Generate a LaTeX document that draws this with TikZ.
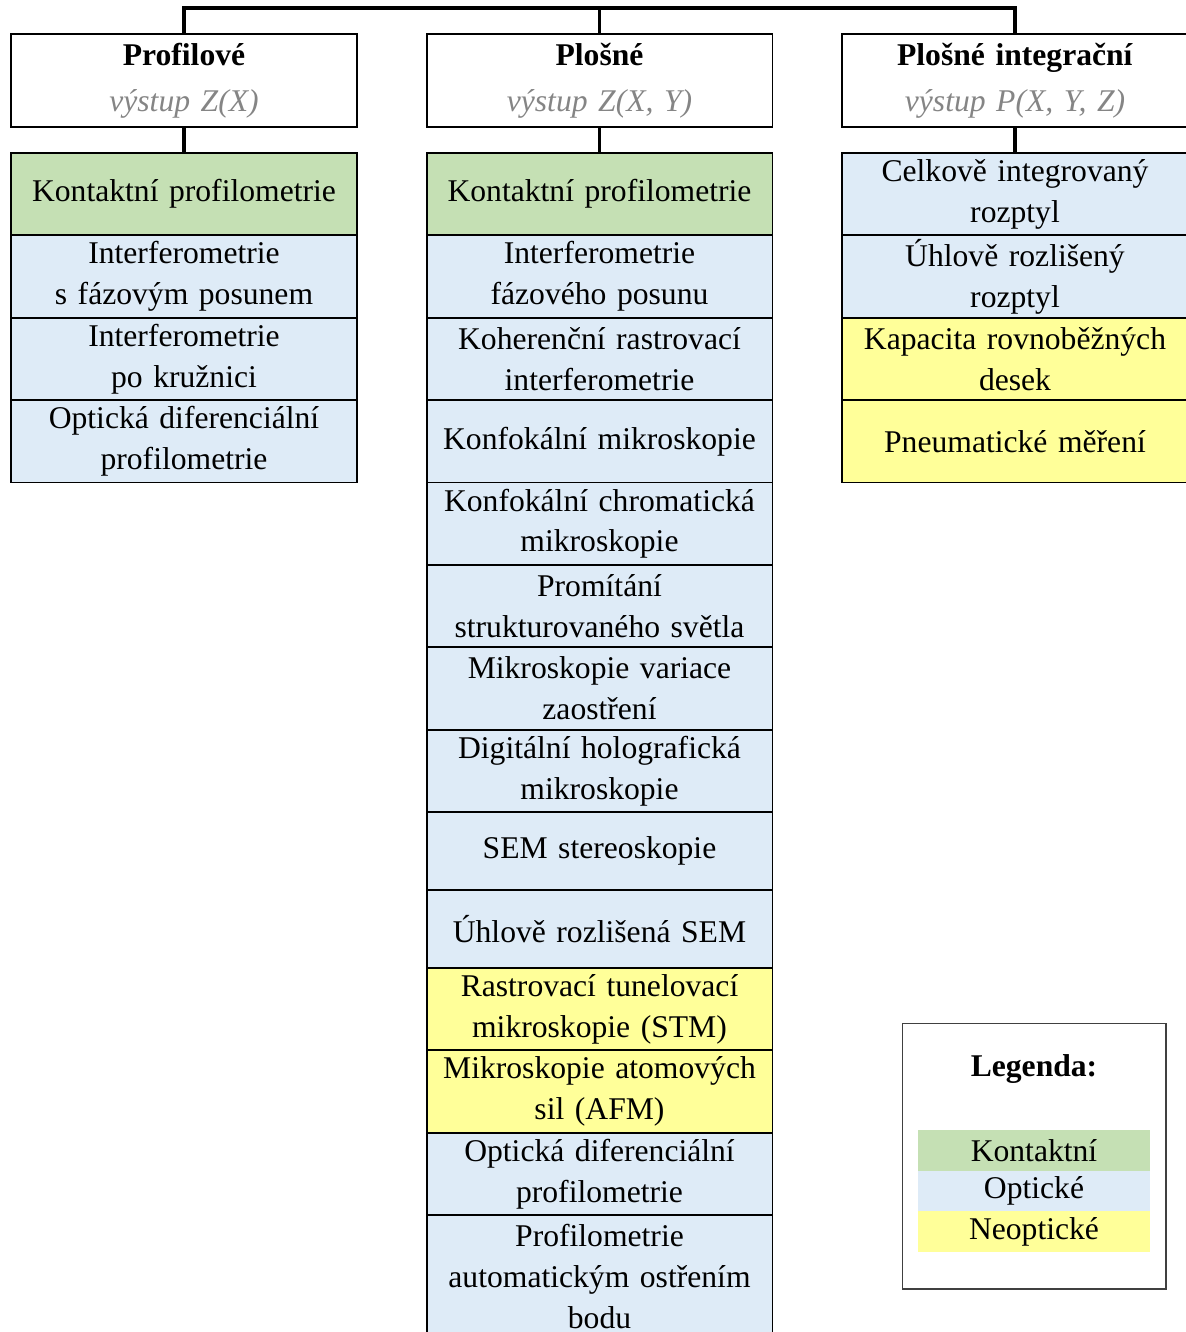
\documentclass[tikz,border=0pt]{standalone}
\usepackage{fontspec}
\setmainfont{Liberation Serif}
\usetikzlibrary{positioning}
\definecolor{kontakt}{HTML}{C5E0B4}
\definecolor{opticke}{HTML}{DEEBF7}
\definecolor{neopt}{HTML}{FFFF99}
\definecolor{vystup}{HTML}{858585}

\begin{document}
\begin{tikzpicture}[x=0.02cm,y=-0.02cm,
every node/.style={font=\fontsize{18}{23.3}\selectfont,align=center,outer sep=0pt,inner sep=0pt},
box/.style={draw,line width=1.1pt,minimum width=6.92cm,minimum height=1.648cm,text width=6.7cm},
head/.style={box,minimum height=1.86cm,font=\fontsize{18}{26.2}\selectfont},
kon/.style={box,fill=kontakt},
opt/.style={box,fill=opticke},
neo/.style={box,fill=neopt},
conn/.style={line width=2pt},
leg/.style={minimum width=4.64cm,minimum height=0.81cm}]
\clip (0,0) rectangle (1186,1332);
\coordinate (top) at (599.5,8);
% headers
\node[head] (prof) at (184,80.5) {\textbf{Profilové}\\{\color{vystup}\itshape výstup Z(X)}};
\node[head] (plos) at (599.5,80.5) {\textbf{Plošné}\\{\color{vystup}\itshape výstup Z(X, Y)}};
\node[head] (integ) at (1015,80.5) {\textbf{Plošné integrační}\\{\color{vystup}\itshape výstup P(X, Y, Z)}};
% profilove
\node[kon,below=0.52cm of prof] (prof1) {Kontaktní profilometrie};
\node[opt,below=0pt of prof1] (prof2) {Interferometrie\\s fázovým posunem};
\node[opt,below=0pt of prof2] (prof3) {Interferometrie\\po kružnici};
\node[opt,below=0pt of prof3] (prof4) {Optická diferenciální\\profilometrie};
% plosne
\node[kon,below=0.52cm of plos] (plos1) {Kontaktní profilometrie};
\node[opt,below=0pt of plos1] (plos2) {Interferometrie\\fázového posunu};
\node[opt,below=0pt of plos2] (plos3) {Koherenční rastrovací\\interferometrie};
\node[opt,below=0pt of plos3] (plos4) {Konfokální mikroskopie};
\node[opt,below=0pt of plos4] (plos5) {Konfokální chromatická\\mikroskopie};
\node[opt,below=0pt of plos5] (plos6) {Promítání\\strukturovaného světla};
\node[opt,below=0pt of plos6] (plos7) {Mikroskopie variace\\zaostření};
\node[opt,below=0pt of plos7] (plos8) {Digitální holografická\\mikroskopie};
\node[opt,minimum height=1.56cm,below=0pt of plos8] (plos9) {SEM stereoskopie};
\node[opt,minimum height=1.56cm,below=0pt of plos9] (plos10) {Úhlově rozlišená SEM};
\node[neo,below=0pt of plos10] (plos11) {Rastrovací tunelovací\\mikroskopie (STM)};
\node[neo,below=0pt of plos11] (plos12) {Mikroskopie atomových\\sil (AFM)};
\node[opt,below=0pt of plos12] (plos13) {Optická diferenciální\\profilometrie};
\node[opt,minimum height=2.44cm,below=0pt of plos13] (plos14) {Profilometrie\\automatickým ostřením\\bodu};
% integracni
\node[opt,below=0.52cm of integ] (integ1) {Celkově integrovaný\\rozptyl};
\node[opt,below=0pt of integ1] (integ2) {Úhlově rozlišený\\rozptyl};
\node[neo,below=0pt of integ2] (integ3) {Kapacita rovnoběžných\\desek};
\node[neo,below=0pt of integ3] (integ4) {Pneumatické měření};
% spojnice
\draw[conn] (prof.north) |- (top) -| (integ.north);
\draw[conn] (plos.north) -- (top);
\draw[conn] (prof.south) -- (prof1.north);
\draw[conn] (plos.south) -- (plos1.north);
\draw[conn] (integ.south) -- (integ1.north);
% legenda
\node[draw=black!75,line width=0.6pt,minimum width=5.28cm,minimum height=5.32cm] (legenda) at (1034,1156) {};
\node (legtitle) at (1034,1069) {\textbf{Legenda:}};
\node[leg,fill=kontakt] (legk) at (1034,1150.5) {Kontaktní};
\node[leg,fill=opticke,below=0pt of legk] (lego) {Optické};
\node[leg,fill=neopt,below=0pt of lego] (legn) {Neoptické};
\end{tikzpicture}
\end{document}
